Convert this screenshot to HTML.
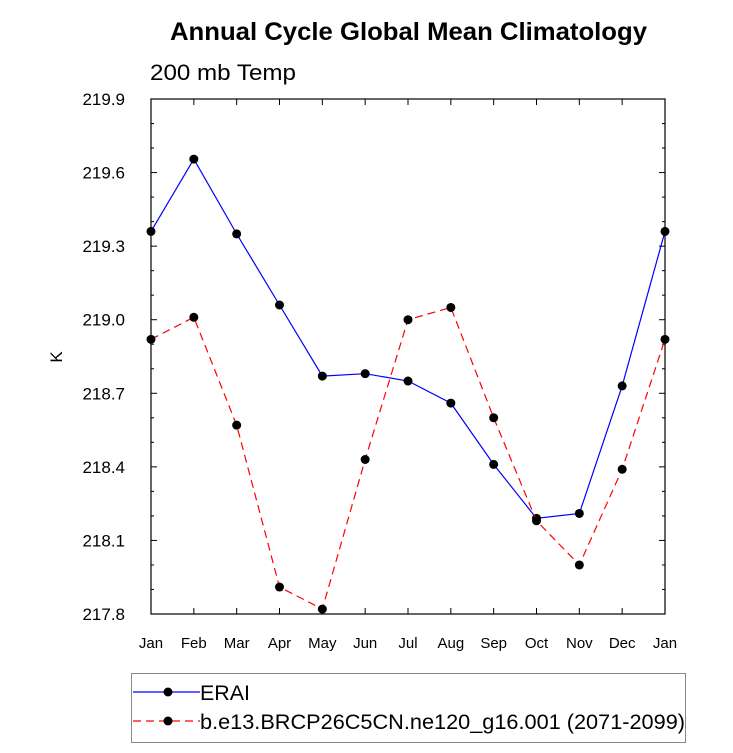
<!DOCTYPE html>
<html><head><meta charset="utf-8"><style>
body{margin:0;background:#fff;}
svg text{font-family:"Liberation Sans",Arial,sans-serif;}
</style></head><body>
<svg id="c" width="733" height="748" xmlns="http://www.w3.org/2000/svg">
<text x="170" y="40" font-size="25" font-weight="bold" textLength="477" lengthAdjust="spacingAndGlyphs">Annual Cycle Global Mean Climatology</text>
<text x="150" y="80" font-size="22" textLength="146" lengthAdjust="spacingAndGlyphs">200 mb Temp</text>
<text x="62" y="357" font-size="17" text-anchor="middle" transform="rotate(-90 62 357)">K</text>
<g id="axes"></g>
<g id="marks"></g>
<g>
<rect x="131.5" y="673.5" width="554" height="69" fill="none" stroke="#888" stroke-width="1"/>
<line x1="133" y1="692" x2="200" y2="692" stroke="#0000ff" stroke-width="1.2"/>
<circle cx="168" cy="692" r="4.5" fill="#000"/>
<text x="200" y="700" font-size="21" textLength="50" lengthAdjust="spacingAndGlyphs">ERAI</text>
<line x1="133" y1="721" x2="200" y2="721" stroke="#ff0000" stroke-width="1.2" stroke-dasharray="8,5"/>
<circle cx="168" cy="721" r="4.5" fill="#000"/>
<text x="200" y="729" font-size="21" textLength="485" lengthAdjust="spacingAndGlyphs">b.e13.BRCP26C5CN.ne120_g16.001 (2071-2099)</text>
</g>
</svg>
<script>
const months=["Jan","Feb","Mar","Apr","May","Jun","Jul","Aug","Sep","Oct","Nov","Dec","Jan"];
const erai=[219.36,219.655,219.35,219.06,218.77,218.78,218.75,218.66,218.41,218.19,218.21,218.73,219.36];
const bcase=[218.92,219.01,218.57,217.91,217.82,218.43,219.0,219.05,218.6,218.18,218.0,218.39,218.92];
const yTicks=["217.8","218.1","218.4","218.7","219.0","219.3","219.6","219.9"];
const NS="http://www.w3.org/2000/svg";
const L=151,R=665,T=99,B=614,ymin=217.8,ymax=219.9;
const xs=i=>L+i*(R-L)/(months.length-1);
const ys=v=>B-(v-ymin)/(ymax-ymin)*(B-T);
function mk(tag,attrs,parent){const e=document.createElementNS(NS,tag);for(const k in attrs)e.setAttribute(k,attrs[k]);parent.appendChild(e);return e;}
const ax=document.getElementById('axes'),mg=document.getElementById('marks');
const frame=mk('rect',{x:L,y:T,width:R-L,height:B-T,fill:'none',stroke:'#000','stroke-width':1.2},ax);


months.forEach((m,i)=>{const x=xs(i);
mk('line',{x1:x,y1:B,x2:x,y2:B-6,stroke:'#000'},ax);
mk('line',{x1:x,y1:T,x2:x,y2:T+6,stroke:'#000'},ax);
const t=mk('text',{x:x,y:B+34,'text-anchor':'middle','font-size':15},ax);t.textContent=m;

});
for(let k=0;k<=21;k++){const v=ymin+k*0.1,y=ys(v),major=k%3===0,len=major?6:3;
mk('line',{x1:L,y1:y,x2:L+len,y2:y,stroke:'#000'},ax);
mk('line',{x1:R,y1:y,x2:R-len,y2:y,stroke:'#000'},ax);}
yTicks.forEach(s=>{const y=ys(parseFloat(s));const t=mk('text',{x:L-26,y:y+6,'text-anchor':'end','font-size':17},ax);t.textContent=s;

});
function series(vals,color,dash,name){
const p=mk('polyline',{points:vals.map((v,i)=>xs(i)+','+ys(v)).join(' '),fill:'none',stroke:color,'stroke-width':1.2,'stroke-dasharray':dash},mg);


vals.forEach((v,i)=>{const c=mk('circle',{cx:xs(i),cy:ys(v),r:4.5,fill:'#000'},mg);

});}
series(erai,'#0000ff','none','erai');
series(bcase,'#ff0000','8,5','bcase');
</script>
</body></html>
